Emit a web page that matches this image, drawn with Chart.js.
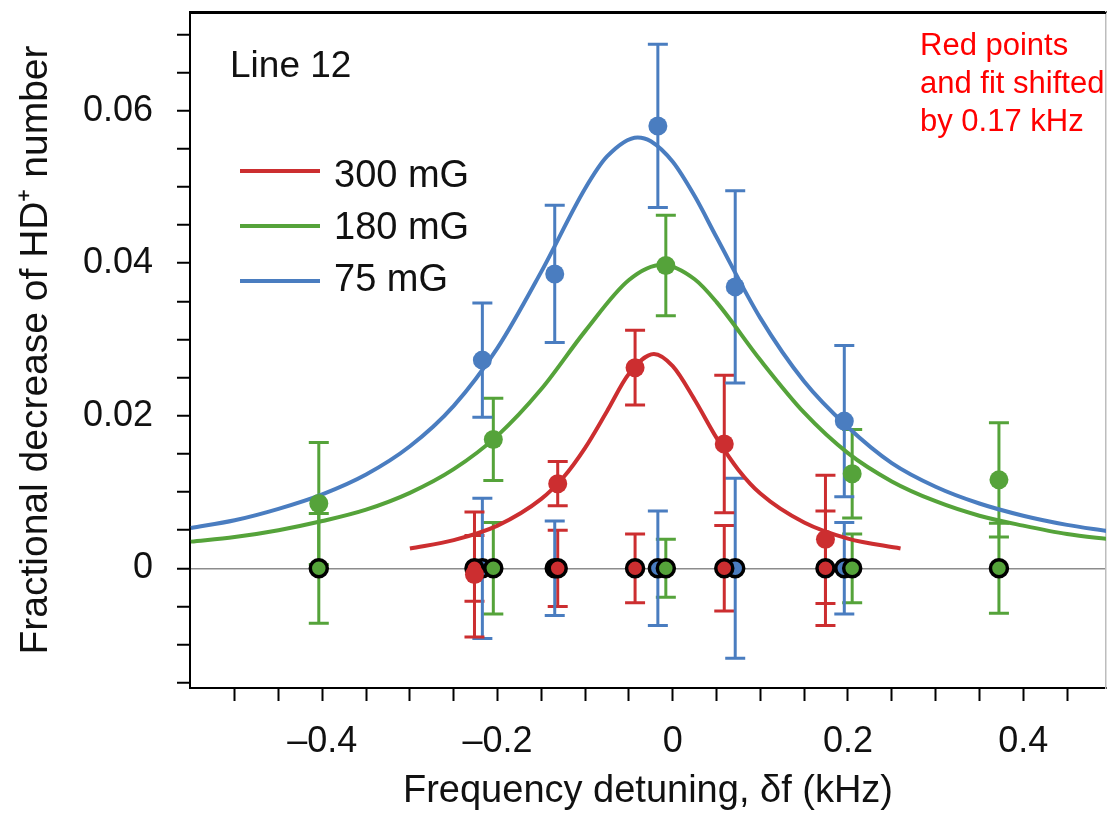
<!DOCTYPE html>
<html>
<head>
<meta charset="utf-8">
<script src="https://cdn.jsdelivr.net/npm/chart.js@4.4.1/dist/chart.umd.min.js"></script>
<style>
  html, body { margin: 0; padding: 0; background: #fff; }
</style>
</head>
<body>
<canvas id="chart" width="1118" height="820"></canvas>
<script>
// ==========================================================================
// LINE 12 RESONANCE CHART
// ==========================================================================

const FONT = "'Liberation Sans', Arial, Helvetica, sans-serif";
const RED = '#cc2e30';
const GREEN = '#55a33a';
const BLUE = '#4a7dc0';

// Measured points (kHz, fractional decrease) and their error bars
const x300 = [-0.2263, -0.1313, -0.043, 0.0588, 0.1743];
const y300 = [-0.0008, 0.0111, 0.0263, 0.0163, 0.0038];
const err300 = [0.0082, 0.0029, 0.0049, 0.009, 0.0084];
const zeroErr300 = [0.0043, 0.005, 0.0045, 0.0056, 0.0075];

const x180 = [-0.404, -0.2048, -0.0079, 0.2048, 0.3723];
const y180 = [0.0085, 0.0169, 0.0397, 0.0124, 0.0116];
const err180 = [0.008, 0.0054, 0.0066, 0.0058, 0.0075];
const zeroErr180 = [0.0072, 0.006, 0.0038, 0.0045, 0.0059];

const x75 = [-0.2173, -0.1347, -0.017, 0.0713, 0.1958];
const y75 = [0.0273, 0.0386, 0.058, 0.0369, 0.0193];
const err75 = [0.0075, 0.009, 0.0107, 0.0126, 0.0099];
const zeroErr75 = [0.0092, 0.0062, 0.0075, 0.0118, 0.006];

// Fit curves
const fitX300 = [-0.30, -0.25, -0.2, -0.15, -0.125, -0.1, -0.075, -0.05, -0.0215, 0, 0.025, 0.05, 0.075, 0.1, 0.15, 0.2, 0.26];
const fitY300 = [0.0026, 0.0037, 0.0056, 0.0091, 0.0119, 0.0158, 0.0206, 0.0255, 0.0281, 0.0265, 0.0221, 0.0171, 0.0129, 0.0098, 0.006, 0.0039, 0.0026];

const fitX180 = [-0.55, -0.5, -0.45, -0.4, -0.35, -0.3, -0.25, -0.2, -0.15, -0.1, -0.05, -0.012, 0.025, 0.05, 0.1, 0.15, 0.2, 0.25, 0.3, 0.35, 0.4, 0.45, 0.5];
const fitY180 = [0.0035, 0.0041, 0.005, 0.0062, 0.0077, 0.0099, 0.013, 0.0174, 0.0235, 0.0311, 0.0378, 0.0398, 0.0379, 0.0349, 0.0273, 0.0204, 0.0151, 0.0114, 0.0088, 0.0069, 0.0056, 0.0045, 0.0038];

const fitX75 = [-0.55, -0.5, -0.45, -0.4, -0.35, -0.3, -0.25, -0.2, -0.15, -0.1, -0.075, -0.04, -0.025, 0, 0.025, 0.05, 0.1, 0.15, 0.2, 0.25, 0.3, 0.35, 0.4, 0.45, 0.495];
const fitY75 = [0.0053, 0.0063, 0.0078, 0.0097, 0.0123, 0.016, 0.0213, 0.0289, 0.0389, 0.0498, 0.054, 0.0565, 0.056, 0.0533, 0.0488, 0.0434, 0.0328, 0.0245, 0.0185, 0.0138, 0.0107, 0.0085, 0.0069, 0.0057, 0.0049];

// Axis ticks
const xTicks = [-0.5, -0.45, -0.4, -0.35, -0.3, -0.25, -0.2, -0.15, -0.1, -0.05, 0, 0.05, 0.1, 0.15, 0.2, 0.25, 0.3, 0.35, 0.4, 0.45];
const xLabeled = [-0.4, -0.2, 0, 0.2, 0.4];
const yTicks = [-0.015, -0.01, -0.005, 0, 0.005, 0.01, 0.015, 0.02, 0.025, 0.03, 0.035, 0.04, 0.045, 0.05, 0.055, 0.06, 0.065, 0.07];
const yLabeled = [0, 0.02, 0.04, 0.06];

const seriesNames = ['300 mG', '180 mG', '75 mG'];
const seriesColors = [RED, GREEN, BLUE];
const noteLines = ['Red points', 'and fit shifted', 'by 0.17 kHz'];

const toPoints = (xs, ys) => xs.map((x, i) => ({ x: x, y: ys[i] }));
const zeros = xs => xs.map(x => ({ x: x, y: 0 }));

const errorSets = [
  { xs: x300, ys: x300.map(() => 0), errs: zeroErr300, color: RED },
  { xs: x180, ys: x180.map(() => 0), errs: zeroErr180, color: GREEN },
  { xs: x75, ys: x75.map(() => 0), errs: zeroErr75, color: BLUE },
  { xs: x300, ys: y300, errs: err300, color: RED },
  { xs: x180, ys: y180, errs: err180, color: GREEN },
  { xs: x75, ys: y75, errs: err75, color: BLUE }
];

// Error bars go under the markers
const errorBarPlugin = {
  id: 'errorBars',
  beforeDatasetsDraw(chart) {
    const { ctx, scales: { x, y } } = chart;
    ctx.save();
    ctx.lineWidth = 3;
    errorSets.forEach(set => {
      ctx.strokeStyle = set.color;
      set.xs.forEach((xv, i) => {
        const px = x.getPixelForValue(xv);
        const top = y.getPixelForValue(set.ys[i] + set.errs[i]);
        const bot = y.getPixelForValue(set.ys[i] - set.errs[i]);
        ctx.beginPath();
        ctx.moveTo(px, top); ctx.lineTo(px, bot);
        ctx.moveTo(px - 10, top); ctx.lineTo(px + 10, top);
        ctx.moveTo(px - 10, bot); ctx.lineTo(px + 10, bot);
        ctx.stroke();
      });
    });
    ctx.restore();
  }
};

// Box frame, legend and the annotations
const decorPlugin = {
  id: 'decor',
  afterDraw(chart) {
    const { ctx, chartArea: a } = chart;
    ctx.save();
    ctx.strokeStyle = '#000';
    ctx.lineWidth = 2;
    ctx.beginPath();
    ctx.moveTo(a.left - 1, a.top + 1); ctx.lineTo(a.right, a.top + 1);
    ctx.stroke();

    ctx.fillStyle = '#111';
    ctx.font = `37px ${FONT}`;
    ctx.textBaseline = 'alphabetic';
    ctx.fillText('Line 12', 230, 77);

    ctx.font = `38px ${FONT}`;
    seriesNames.forEach((name, i) => {
      ctx.strokeStyle = seriesColors[i];
      ctx.lineWidth = 4;
      ctx.beginPath();
      ctx.moveTo(240, 171 + i * 55); ctx.lineTo(320, 171 + i * 55);
      ctx.stroke();
      ctx.fillStyle = '#111';
      ctx.fillText(name, 334, 187 + i * 52);
    });

    ctx.fillStyle = '#ff0000';
    ctx.font = `31px ${FONT}`;
    noteLines.forEach((line, i) => ctx.fillText(line, 920, 55 + i * 38));
    ctx.restore();
  }
};

const ctx = document.getElementById('chart').getContext('2d');

new Chart(ctx, {
  type: 'scatter',
  data: {
    datasets: [
      { data: toPoints(x300, y300), backgroundColor: RED, borderColor: RED, pointRadius: 9.5, borderWidth: 0 },
      { data: toPoints(x180, y180), backgroundColor: GREEN, borderColor: GREEN, pointRadius: 9.5, borderWidth: 0 },
      { data: toPoints(x75, y75), backgroundColor: BLUE, borderColor: BLUE, pointRadius: 9.5, borderWidth: 0 },
      { data: zeros(x300), backgroundColor: RED, borderColor: '#000', pointRadius: 8.5, pointBorderWidth: 3.5 },
      { data: zeros(x180), backgroundColor: GREEN, borderColor: '#000', pointRadius: 8.5, pointBorderWidth: 3.5 },
      { data: zeros(x75), backgroundColor: BLUE, borderColor: '#000', pointRadius: 8.5, pointBorderWidth: 3.5 },
      { type: 'line', data: toPoints(fitX300, fitY300), borderColor: RED, borderWidth: 4, pointRadius: 0, fill: false, cubicInterpolationMode: 'monotone' },
      { type: 'line', data: toPoints(fitX180, fitY180), borderColor: GREEN, borderWidth: 4, pointRadius: 0, fill: false, cubicInterpolationMode: 'monotone' },
      { type: 'line', data: toPoints(fitX75, fitY75), borderColor: BLUE, borderWidth: 4, pointRadius: 0, fill: false, cubicInterpolationMode: 'monotone' }
    ]
  },
  options: {
    responsive: false,
    animation: false,
    layout: { padding: { top: 10, right: 4, left: 0, bottom: 0 } },
    plugins: {
      legend: { display: false },
      tooltip: { enabled: false }
    },
    scales: {
      x: {
        type: 'linear',
        min: -0.551,
        max: 0.4945,
        afterBuildTicks: axis => { axis.ticks = xTicks.map(v => ({ value: v })); },
        afterFit: axis => {
          axis.height = 132;
          axis.paddingLeft = 0;
          axis.paddingRight = 0;
        },
        border: { color: '#000', width: 2 },
        grid: { drawOnChartArea: false, tickLength: 13, tickColor: '#000', tickWidth: 2 },
        ticks: {
          autoSkip: false,
          maxRotation: 0,
          padding: 19,
          color: '#111',
          font: { family: FONT, size: 36 },
          callback: v => xLabeled.includes(v) ? (v < 0 ? '\u2013' + Math.abs(v) : String(v)) : ''
        },
        title: {
          display: true,
          text: 'Frequency detuning, \u03b4f (kHz)',
          color: '#111',
          font: { family: FONT, size: 38 },
          padding: { top: 0, bottom: 6 }
        }
      },
      // frame edges: top and right
      xTop: {
        type: 'linear',
        position: 'top',
        min: -0.551,
        max: 0.4945,
        afterFit: axis => { axis.height = 0; axis.paddingLeft = 0; axis.paddingRight = 0; },
        border: { color: '#000', width: 2 },
        grid: { display: false },
        ticks: { display: false }
      },
      yRight: {
        type: 'linear',
        position: 'right',
        min: -0.01569,
        max: 0.07294,
        afterFit: axis => { axis.width = 0; axis.paddingTop = 0; axis.paddingBottom = 0; },
        border: { color: '#bdbdbd', width: 1.5 },
        grid: { display: false },
        ticks: { display: false }
      },
      y: {
        min: -0.01569,
        max: 0.07294,
        afterBuildTicks: axis => { axis.ticks = yTicks.map(v => ({ value: v })); },
        afterFit: axis => {
          axis.width = 190;
          axis.paddingTop = 0;
          axis.paddingBottom = 0;
        },
        border: { color: '#000', width: 2 },
        grid: {
          color: c => (c.tick && c.tick.value === 0) ? '#8c8c8c' : 'rgba(0,0,0,0)',
          lineWidth: 1.5,
          tickLength: 13,
          tickColor: '#000',
          tickWidth: 2
        },
        ticks: {
          autoSkip: false,
          padding: 24,
          color: '#111',
          font: { family: FONT, size: 36 },
          callback: v => yLabeled.includes(v) ? String(v) : ''
        },
        title: {
          display: true,
          text: 'Fractional decrease of HD\u207a number',
          color: '#111',
          font: { family: FONT, size: 39 },
          padding: { top: 13, bottom: 0 }
        }
      }
    }
  },
  plugins: [errorBarPlugin, decorPlugin]
});
</script>
</body>
</html>
